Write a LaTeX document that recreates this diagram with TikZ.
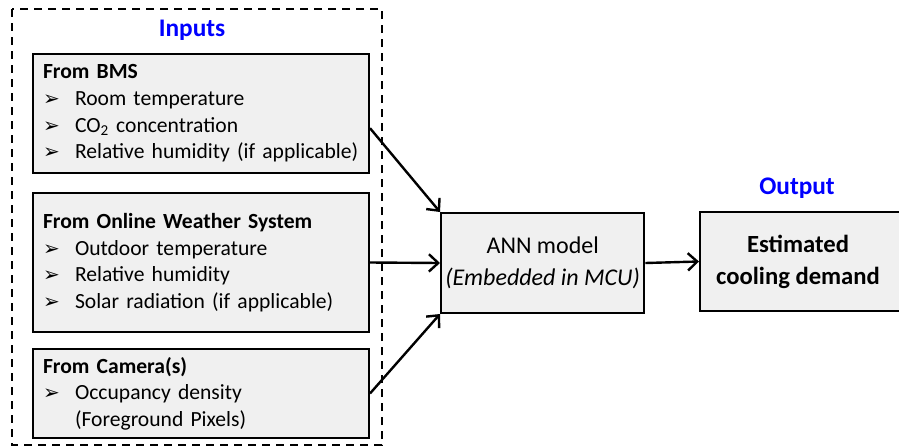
\documentclass[tikz,border=0pt]{standalone}
\usepackage{fontspec}
\setmainfont{Carlito}
\newfontfamily\symfont{DejaVu Sans}
\usetikzlibrary{arrows.meta}
\usetikzlibrary{shapes}

\newcommand{\itm}{\makebox[24pt][l]{\symfont\fontsize{15}{15}\selectfont ➢}}
\newcommand{\noitm}{\makebox[24pt][l]{}}

\begin{document}
\begin{tikzpicture}[x=0.75pt, y=-0.75pt,
    box/.style={draw, line width=1.5pt, fill=black!6, rectangle},
    srcbox/.style={box, anchor=north west, align=left, text width=237pt,
      inner xsep=7.5pt, minimum width=252pt},
    head/.style={text=blue, font=\fontsize{19}{22}\selectfont\bfseries},
    arr/.style={line width=1.8pt, -{Straight Barb[length=7pt, width=13pt]}},
    font=\fontsize{16.2}{20}\selectfont]

    \useasboundingbox (0,0) rectangle (899,447);

    % Declare the inputs frame
    \draw[dashed, line width=1.3pt, dash pattern=on 6pt off 4.5pt] (12,9) rectangle (382,445);
    \node[head] at (192,30) (inputs) {Inputs};

    % Declare the source boxes
    \node[srcbox, minimum height=89.25pt] at (32,53) (bms)
      {\textbf{From BMS}\\
       \itm Room temperature\\
       \itm CO\textsubscript{2} concentration\\
       \itm Relative humidity (if applicable)};
    \node[srcbox, minimum height=104.25pt] at (32,192) (weather)
      {\textbf{From Online Weather System}\\
       \itm Outdoor temperature\\
       \itm Relative humidity\\
       \itm Solar radiation (if applicable)};
    \node[srcbox, minimum height=66.75pt] at (32,348) (camera)
      {\textbf{From Camera(s)}\\
       \itm Occupancy density\\
       \noitm (Foreground Pixels)};

    % Declare the model and output
    \node[box, anchor=north west, minimum width=151.5pt, minimum height=75pt, align=center,
      font=\fontsize{18}{24}\selectfont] at (440,212) (ann)
      {ANN model\\ \textit{(Embedded in MCU)}};
    \node[head] at (797,188) (output) {Output};
    \node[box, anchor=west, inner sep=0pt, minimum height=74.25pt,
      font=\fontsize{18.5}{24}\selectfont] at (699,261.5) (demand)
      {\parbox{147pt}{\centering\bfseries Estimated\\cooling demand}\rule{60pt}{0pt}};

    % Declare edges
    \draw[arr] ([yshift=-11pt]bms.east) -- (ann.north west);
    \draw[arr] (weather.east) -- (ann.west);
    \draw[arr] (camera.east) -- (ann.south west);
    \draw[arr] (ann.east) -- (demand.west);

\end{tikzpicture}
\end{document}
